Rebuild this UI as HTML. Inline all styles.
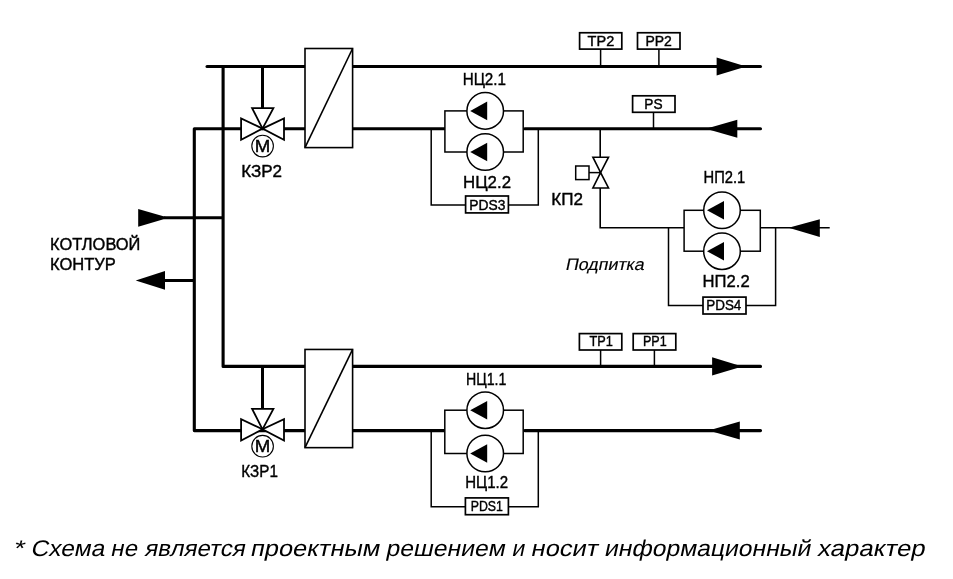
<!DOCTYPE html>
<html><head><meta charset="utf-8"><style>
html,body{margin:0;padding:0;background:#fff;overflow:hidden;}
svg{display:block;will-change:transform;}
.lb{font-family:"Liberation Sans",sans-serif;fill:#000;stroke:#000;stroke-width:0.4px;}
.it{font-family:"Liberation Sans",sans-serif;fill:#000;stroke:#000;stroke-width:0.15px;}
.ft{font-family:"Liberation Sans",sans-serif;fill:#000;stroke:none;}
</style></head><body>
<svg width="953" height="579" viewBox="0 0 953 579">
<rect width="953" height="579" fill="#fff"/>
<g stroke="#000" fill="none">
<line x1="207" y1="66.5" x2="760.5" y2="66.5" stroke-width="3.0" stroke-linecap="round"/>
<path d="M444.9,128.7 L194.3,128.7 L194.3,430.6 L444.8,430.6" stroke-width="3.1" stroke-linejoin="round"/>
<path d="M524.75,128.7 L760.5,128.7 M524.75,430.6 L760.5,430.6" stroke-width="3.1" stroke-linecap="round"/>
<path d="M223.1,66.5 L223.1,366.4 L760.5,366.4" stroke-width="3.1" stroke-linecap="round" stroke-linejoin="round"/>
<line x1="163.7" y1="217.8" x2="223.1" y2="217.8" stroke-width="3.0" stroke-linecap="butt"/>
<line x1="165" y1="280.5" x2="194.3" y2="280.5" stroke-width="3.0" stroke-linecap="butt"/>
<polygon points="138.20,209.00 138.20,226.80 168.60,217.80" fill="#000" stroke="none"/>
<polygon points="135.70,280.50 165.00,271.10 165.00,289.70" fill="#000" stroke="none"/>
<line x1="262.5" y1="66.5" x2="262.5" y2="108.1" stroke-width="3.0" stroke-linecap="butt"/>
<polygon points="241.10,118.40 241.10,139.80 262.50,128.60" fill="#fff" stroke-width="1.8" stroke-linejoin="miter"/>
<polygon points="284.00,118.40 284.00,139.80 262.50,128.60" fill="#fff" stroke-width="1.8" stroke-linejoin="miter"/>
<polygon points="252.10,108.10 273.40,108.10 262.50,128.60" fill="#fff" stroke-width="1.8" stroke-linejoin="miter"/>
<circle cx="262.6" cy="146.1" r="10.8" fill="#fff" stroke-width="1.1"/>
<rect x="305" y="48.5" width="47.60" height="99.10" fill="#fff" stroke-width="1.6"/>
<line x1="352.6" y1="48.5" x2="305" y2="147.6" stroke-width="1.6" stroke-linecap="butt"/>
<polygon points="716.60,57.40 716.60,75.60 746.20,66.50" fill="#000" stroke="none"/>
<polygon points="705.90,128.70 737.30,119.70 737.30,137.70" fill="#000" stroke="none"/>
<line x1="262.5" y1="366.4" x2="262.5" y2="408.8" stroke-width="3.0" stroke-linecap="butt"/>
<polygon points="241.10,419.10 241.10,440.50 262.50,429.30" fill="#fff" stroke-width="1.8" stroke-linejoin="miter"/>
<polygon points="284.00,419.10 284.00,440.50 262.50,429.30" fill="#fff" stroke-width="1.8" stroke-linejoin="miter"/>
<polygon points="252.10,408.80 273.40,408.80 262.50,429.30" fill="#fff" stroke-width="1.8" stroke-linejoin="miter"/>
<circle cx="262.6" cy="446.2" r="10.8" fill="#fff" stroke-width="1.1"/>
<rect x="305" y="349.45" width="47.60" height="98.20" fill="#fff" stroke-width="1.6"/>
<line x1="352.6" y1="349.45" x2="305" y2="447.65" stroke-width="1.6" stroke-linecap="butt"/>
<polygon points="712.10,357.30 712.10,375.50 742.30,366.40" fill="#000" stroke="none"/>
<polygon points="708.60,430.60 739.80,421.60 739.80,439.60" fill="#000" stroke="none"/>
<line x1="600.6" y1="49.1" x2="600.6" y2="66.5" stroke-width="1.5" stroke-linecap="butt"/>
<rect x="579.6" y="32.75" width="42.20" height="16.35" fill="#fff" stroke-width="1.7"/>
<line x1="658.9" y1="49.1" x2="658.9" y2="66.5" stroke-width="1.5" stroke-linecap="butt"/>
<rect x="637.5" y="32.75" width="42.50" height="16.35" fill="#fff" stroke-width="1.7"/>
<line x1="600.6" y1="350.0" x2="600.6" y2="366.4" stroke-width="1.5" stroke-linecap="butt"/>
<rect x="579.4" y="333.6" width="42.40" height="16.40" fill="#fff" stroke-width="1.7"/>
<line x1="654.4" y1="350.0" x2="654.4" y2="366.4" stroke-width="1.5" stroke-linecap="butt"/>
<rect x="633.2" y="333.6" width="42.60" height="16.40" fill="#fff" stroke-width="1.7"/>
<line x1="653.5" y1="112.3" x2="653.5" y2="128.6" stroke-width="1.5" stroke-linecap="butt"/>
<rect x="632.6" y="95.8" width="42.40" height="16.50" fill="#fff" stroke-width="1.7"/>
<path d="M431.2,128.6 L431.2,205.0 L538.3,205.0 L538.3,128.6" stroke-width="1.5"/>
<rect x="444.9" y="110.9" width="78.30" height="41.10" fill="none" stroke-width="1.5"/>
<circle cx="485.2" cy="110.9" r="18.3" fill="#fff" stroke-width="1.5"/>
<polygon points="470.20,110.90 487.20,101.60 487.20,120.20" fill="#000" stroke="none"/>
<circle cx="485.2" cy="152.0" r="18.3" fill="#fff" stroke-width="1.5"/>
<polygon points="470.20,152.00 487.20,142.70 487.20,161.30" fill="#000" stroke="none"/>
<rect x="465.6" y="196.0" width="42.80" height="16.90" fill="#fff" stroke-width="1.7"/>
<path d="M431.2,430.6 L431.2,506.8 L538.3,506.8 L538.3,430.6" stroke-width="1.5"/>
<rect x="444.8" y="410.2" width="78.40" height="43.30" fill="none" stroke-width="1.5"/>
<circle cx="485.2" cy="410.2" r="18.3" fill="#fff" stroke-width="1.5"/>
<polygon points="470.20,410.20 487.20,400.90 487.20,419.50" fill="#000" stroke="none"/>
<circle cx="485.2" cy="453.5" r="18.3" fill="#fff" stroke-width="1.5"/>
<polygon points="470.20,453.50 487.20,444.20 487.20,462.80" fill="#000" stroke="none"/>
<rect x="465.4" y="497.9" width="43.00" height="16.80" fill="#fff" stroke-width="1.7"/>
<path d="M600.2,128.6 L600.2,227.8 L684.1,227.8 M760.3,227.8 L829.7,227.8" stroke-width="1.6" fill="none"/>
<polygon points="592.90,157.20 608.50,157.20 600.60,172.60" fill="#fff" stroke-width="1.6" stroke-linejoin="miter"/>
<polygon points="592.90,188.00 608.50,188.00 600.60,172.60" fill="#fff" stroke-width="1.6" stroke-linejoin="miter"/>
<line x1="589" y1="172.6" x2="600.6" y2="172.6" stroke-width="1.5" stroke-linecap="butt"/>
<rect x="575.7" y="166" width="13.30" height="13.60" fill="#fff" stroke-width="1.5"/>
<path d="M668.5,227.8 L668.5,305.6 L775.6,305.6 L775.6,227.8" stroke-width="1.5"/>
<rect x="684.1" y="210.3" width="76.20" height="40.90" fill="none" stroke-width="1.5"/>
<circle cx="722" cy="210.3" r="18.3" fill="#fff" stroke-width="1.5"/>
<polygon points="707.00,210.30 724.00,201.00 724.00,219.60" fill="#000" stroke="none"/>
<circle cx="722" cy="251.2" r="18.3" fill="#fff" stroke-width="1.5"/>
<polygon points="707.00,251.20 724.00,241.90 724.00,260.50" fill="#000" stroke="none"/>
<rect x="703.0" y="297.1" width="43.00" height="16.90" fill="#fff" stroke-width="1.7"/>
<polygon points="788.60,227.80 819.80,219.20 819.80,236.90" fill="#000" stroke="none"/>
<text x="50.01" y="249.6" font-size="16.7" class="lb" textLength="90.4" lengthAdjust="spacingAndGlyphs">КОТЛОВОЙ</text>
<text x="50.01" y="269.6" font-size="16.7" class="lb" textLength="65.89" lengthAdjust="spacingAndGlyphs">КОНТУР</text>
<text x="241.17" y="176.5" font-size="16.7" class="lb" textLength="40.89" lengthAdjust="spacingAndGlyphs">КЗР2</text>
<text x="241.31" y="476.5" font-size="16.7" class="lb" textLength="36.56" lengthAdjust="spacingAndGlyphs">КЗР1</text>
<text x="462.69" y="84.5" font-size="16.7" class="lb" textLength="43.26" lengthAdjust="spacingAndGlyphs">НЦ2.1</text>
<text x="463.0" y="187.7" font-size="16.7" class="lb" textLength="48.01" lengthAdjust="spacingAndGlyphs">НЦ2.2</text>
<text x="465.96" y="384.7" font-size="16.7" class="lb" textLength="40.39" lengthAdjust="spacingAndGlyphs">НЦ1.1</text>
<text x="465.28" y="487.5" font-size="16.7" class="lb" textLength="42.85" lengthAdjust="spacingAndGlyphs">НЦ1.2</text>
<text x="703.51" y="182.5" font-size="16.7" class="lb" textLength="41.7" lengthAdjust="spacingAndGlyphs">НП2.1</text>
<text x="702.62" y="286.7" font-size="16.7" class="lb" textLength="47.05" lengthAdjust="spacingAndGlyphs">НП2.2</text>
<text x="551.35" y="204.6" font-size="16.7" class="lb" textLength="31.7" lengthAdjust="spacingAndGlyphs">КП2</text>
<text x="587.6" y="45.7" font-size="14.3" class="lb" textLength="26.64" lengthAdjust="spacingAndGlyphs">TP2</text>
<text x="645.42" y="45.7" font-size="14.3" class="lb" textLength="26.42" lengthAdjust="spacingAndGlyphs">PP2</text>
<text x="589.4" y="346.4" font-size="14.3" class="lb" textLength="23.42" lengthAdjust="spacingAndGlyphs">TP1</text>
<text x="642.93" y="346.4" font-size="14.3" class="lb" textLength="23.72" lengthAdjust="spacingAndGlyphs">PP1</text>
<text x="644.27" y="108.5" font-size="14.3" class="lb" textLength="18.26" lengthAdjust="spacingAndGlyphs">PS</text>
<text x="469.24" y="209.5" font-size="14.3" class="lb" textLength="36.12" lengthAdjust="spacingAndGlyphs">PDS3</text>
<text x="470.72" y="510.8" font-size="14.3" class="lb" textLength="32.19" lengthAdjust="spacingAndGlyphs">PDS1</text>
<text x="706.24" y="310.1" font-size="14.3" class="lb" textLength="35.12" lengthAdjust="spacingAndGlyphs">PDS4</text>
<text x="254.65" y="151.6" font-size="16.0" class="lb" textLength="15.54" lengthAdjust="spacingAndGlyphs">M</text>
<text x="254.65" y="451.6" font-size="16.0" class="lb" textLength="15.54" lengthAdjust="spacingAndGlyphs">M</text>
<text transform="translate(564.93,269.6) skewX(-12)" x="0" y="0" font-size="16.7" class="it" textLength="78.84" lengthAdjust="spacingAndGlyphs">Подпитка</text>
<text transform="translate(12.68,555.7) skewX(-12)" x="0" y="0" font-size="22.7" class="ft" textLength="10.65" lengthAdjust="spacingAndGlyphs">*</text>
<text transform="translate(30.29,555.7) skewX(-12)" x="0" y="0" font-size="22.7" class="ft" textLength="73.79" lengthAdjust="spacingAndGlyphs">Схема</text>
<text transform="translate(110.11,555.7) skewX(-12)" x="0" y="0" font-size="22.7" class="ft" textLength="26.67" lengthAdjust="spacingAndGlyphs">не</text>
<text transform="translate(143.94,555.7) skewX(-12)" x="0" y="0" font-size="22.7" class="ft" textLength="100.57" lengthAdjust="spacingAndGlyphs">является</text>
<text transform="translate(249.75,555.7) skewX(-12)" x="0" y="0" font-size="22.7" class="ft" textLength="129.27" lengthAdjust="spacingAndGlyphs">проектным</text>
<text transform="translate(385.31,555.7) skewX(-12)" x="0" y="0" font-size="22.7" class="ft" textLength="119.11" lengthAdjust="spacingAndGlyphs">решением</text>
<text transform="translate(511.2,555.7) skewX(-12)" x="0" y="0" font-size="22.7" class="ft" textLength="12.69" lengthAdjust="spacingAndGlyphs">и</text>
<text transform="translate(530.36,555.7) skewX(-12)" x="0" y="0" font-size="22.7" class="ft" textLength="66.9" lengthAdjust="spacingAndGlyphs">носит</text>
<text transform="translate(603.83,555.7) skewX(-12)" x="0" y="0" font-size="22.7" class="ft" textLength="206.26" lengthAdjust="spacingAndGlyphs">информационный</text>
<text transform="translate(816.87,555.7) skewX(-12)" x="0" y="0" font-size="22.7" class="ft" textLength="107.56" lengthAdjust="spacingAndGlyphs">характер</text>
</g>
</svg>
</body></html>
